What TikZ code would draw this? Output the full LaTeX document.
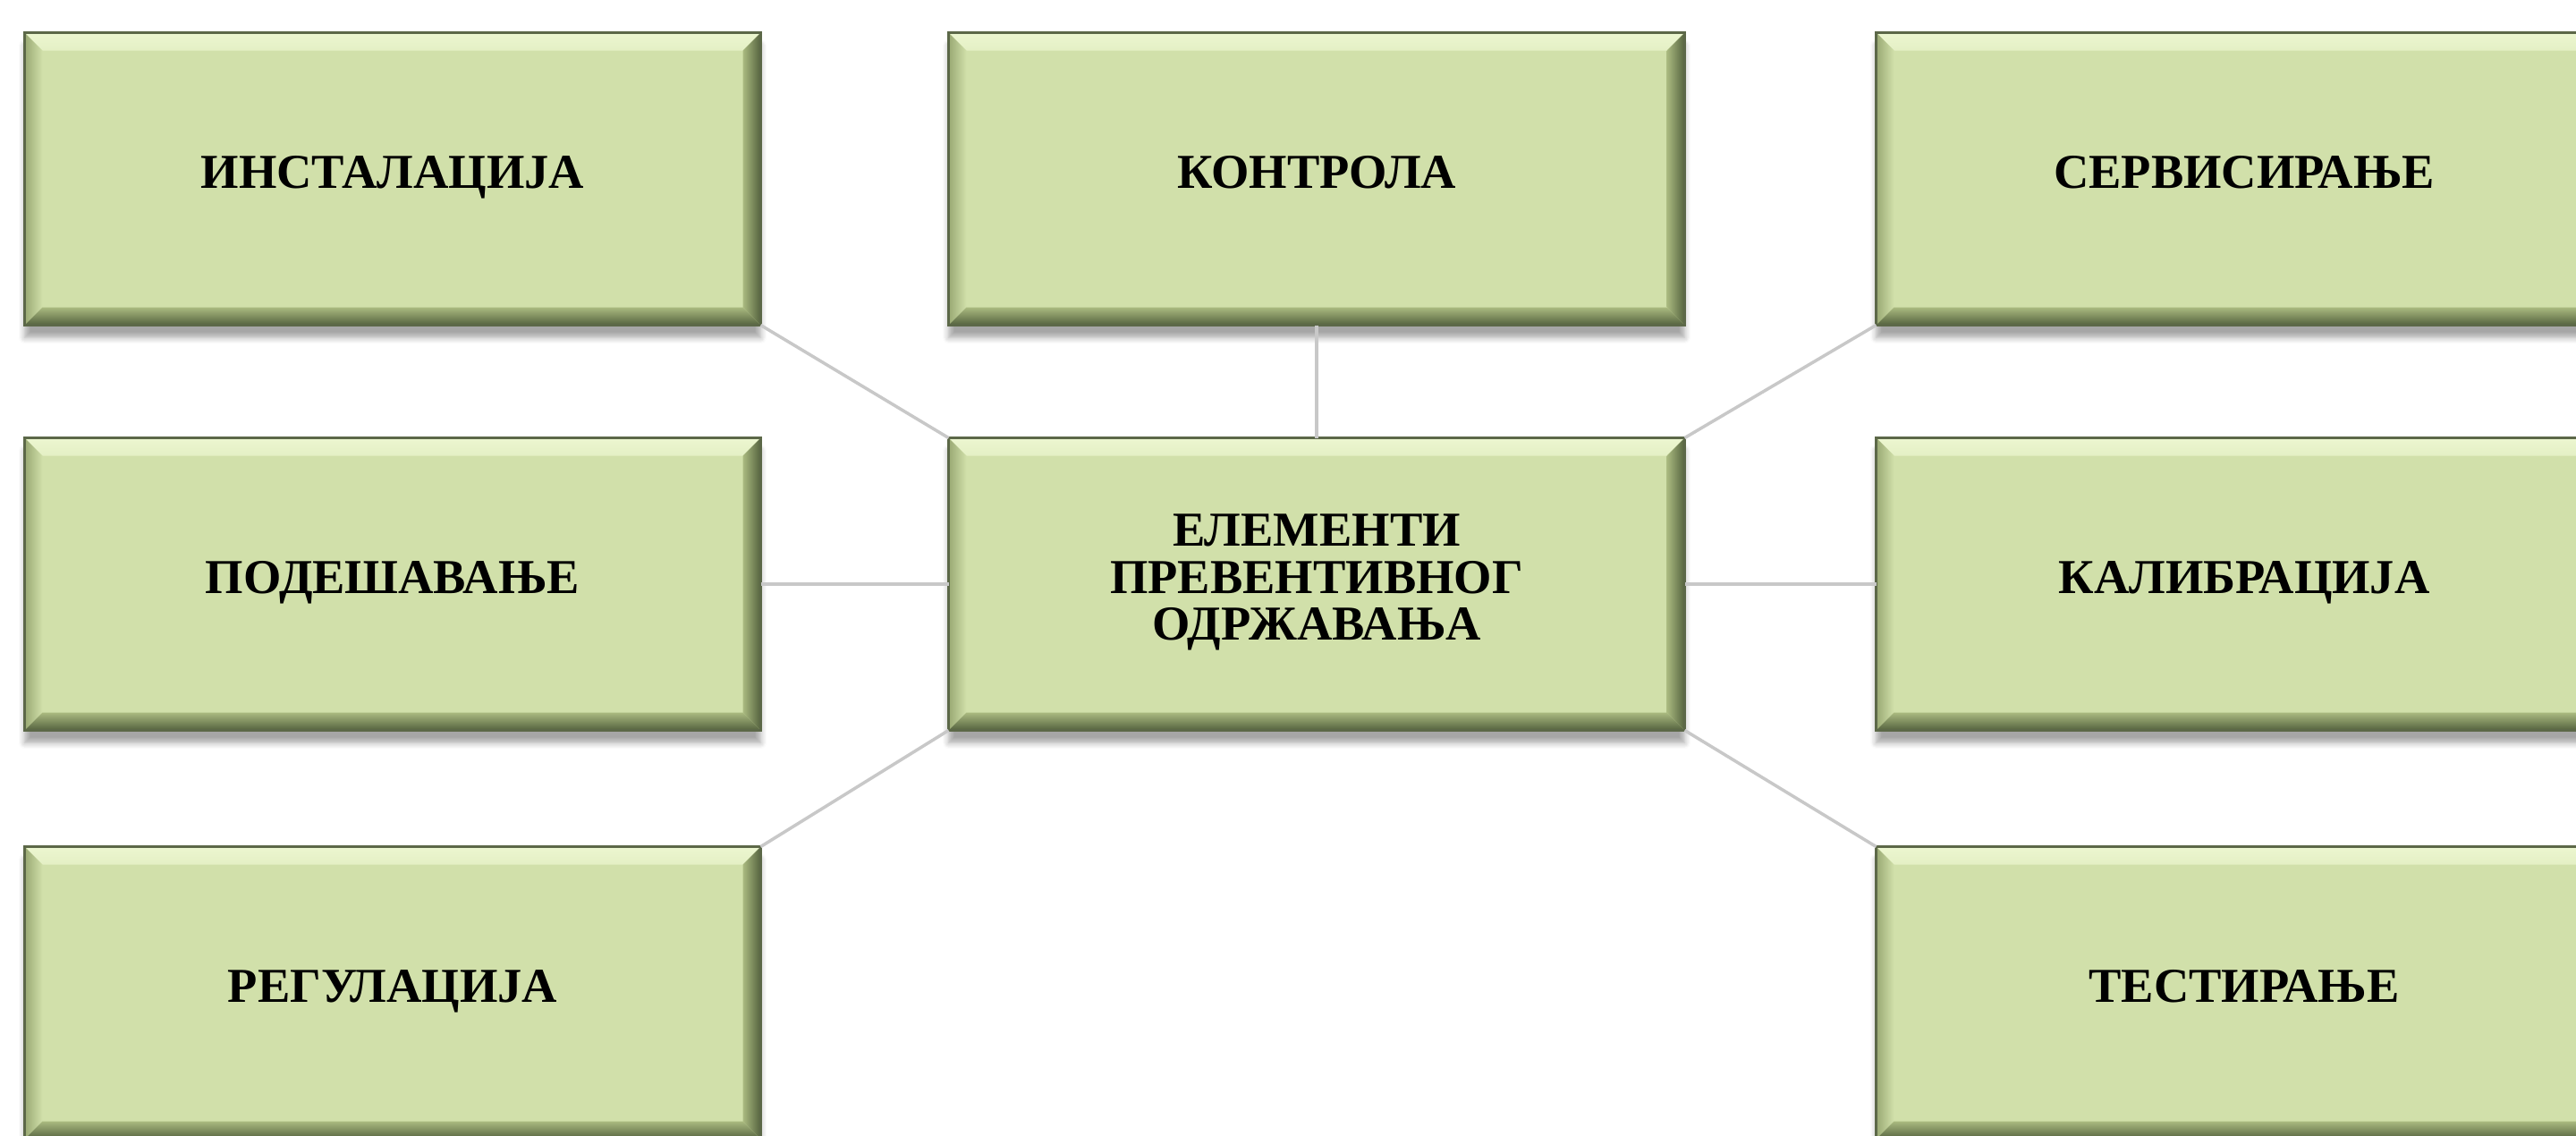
\documentclass[tikz,border=0pt]{standalone}
\usepackage{fontspec}
\setmainfont{Liberation Serif}
\usetikzlibrary{
  calc,
  shadows.blur
}
\definecolor{boxgreen}{RGB}{209,224,170}
\definecolor{bevellight}{RGB}{236,246,208}
\definecolor{bevelmid}{RGB}{170,186,128}
\definecolor{beveldark}{RGB}{84,98,62}
\definecolor{boxedge}{RGB}{92,104,72}
\definecolor{linkgray}{RGB}{200,200,200}
\newcommand{\bevel}{0.2cm}
\tikzset{
  % For the bevelled, framed boxes.
  bevel box/.style={
    rectangle,
    minimum width=8.23cm,
    minimum height=3.27cm,
    inner sep=0pt,
    outer sep=0pt,
    fill=boxgreen,
    draw=boxedge,
    line width=0.6pt,
    align=center,
    font=\fontsize{15.5}{14.9}\selectfont\bfseries,
    execute at begin node=\strut,
    execute at end node=\strut,
    blur shadow={shadow xshift=0pt, shadow yshift=-4pt,
                 shadow blur steps=6, shadow opacity=35},
    path picture={
      \path (path picture bounding box.north west) coordinate (bnw)
            (path picture bounding box.north east) coordinate (bne)
            (path picture bounding box.south east) coordinate (bse)
            (path picture bounding box.south west) coordinate (bsw)
            ($(bnw)+(\bevel,-\bevel)$) coordinate (inw)
            ($(bne)+(-\bevel,-\bevel)$) coordinate (ine)
            ($(bse)+(-\bevel,\bevel)$) coordinate (ise)
            ($(bsw)+(\bevel,\bevel)$) coordinate (isw);
      % top face
      \shade[top color=bevellight, bottom color=bevellight!70!boxgreen]
        (bnw) -- (bne) -- (ine) -- (inw) -- cycle;
      % left face
      \shade[left color=bevelmid!80!beveldark, right color=boxgreen]
        (bnw) -- (inw) -- (isw) -- (bsw) -- cycle;
      % right face
      \shade[left color=bevelmid, right color=beveldark]
        (bne) -- (bse) -- (ise) -- (ine) -- cycle;
      % bottom face
      \shade[top color=bevelmid, bottom color=beveldark]
        (bsw) -- (isw) -- (ise) -- (bse) -- cycle;
    }},
%
  % For the links to the middle box.
  link/.style={
    draw=linkgray,
    line width=1pt}
}

\begin{document}
\begin{tikzpicture}
  \useasboundingbox (0,0) rectangle (28.8,-12.69);

  \node[bevel box] (mid) at (14.72,-6.53)
    {ЕЛЕМЕНТИ\\ПРЕВЕНТИВНОГ\\ОДРЖАВАЊА};

  \node[bevel box] (inst) at (4.39,-2.00) {ИНСТАЛАЦИЈА};
  \node[bevel box] (kontr) at (14.72,-2.00) {КОНТРОЛА};
  \node[bevel box] (serv) at (25.09,-2.00) {СЕРВИСИРАЊЕ};

  \node[bevel box] (podes) at (4.39,-6.53) {ПОДЕШАВАЊЕ};
  \node[bevel box] (kalib) at (25.09,-6.53) {КАЛИБРАЦИЈА};

  \node[bevel box] (regul) at (4.39,-11.10) {РЕГУЛАЦИЈА};
  \node[bevel box] (test) at (25.09,-11.10) {ТЕСТИРАЊЕ};

  % The links meet the boxes at their corners and edge midpoints.
  \draw[link] (inst.south east) -- (mid.north west);
  \draw[link] (kontr.south) -- (mid.north);
  \draw[link] (serv.south west) -- (mid.north east);
  \draw[link] (podes.east) -- (mid.west);
  \draw[link] (kalib.west) -- (mid.east);
  \draw[link] (regul.north east) -- (mid.south west);
  \draw[link] (test.north west) -- (mid.south east);
\end{tikzpicture}
\end{document}
